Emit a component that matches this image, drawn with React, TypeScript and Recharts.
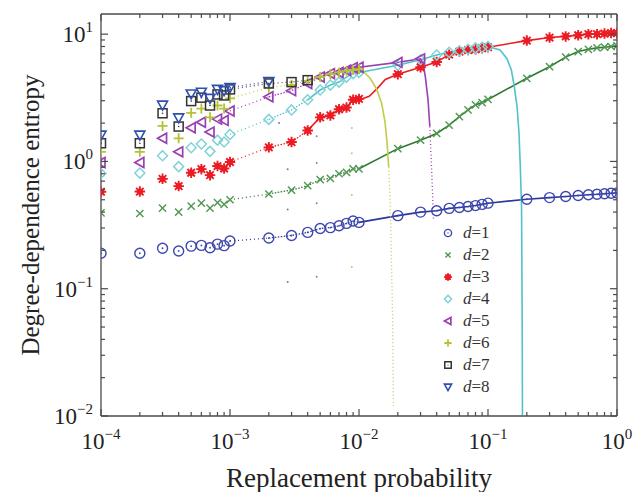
import React from "react";
import { ScatterChart, Scatter, XAxis, YAxis, ReferenceLine, Legend } from "recharts";

const SERIF = "'Liberation Serif', 'Times New Roman', Times, serif";
const AXIS = "#4a4a4a";
const PLOT = { left: 101, top: 14, right: 617, bottom: 416 };

// sampled replacement probabilities (also used as the x tick positions)
const P = [
  1e-4, 2e-4, 3e-4, 4e-4, 5e-4, 6e-4, 7e-4, 8e-4, 9e-4,
  1e-3, 2e-3, 3e-3, 4e-3, 5e-3, 6e-3, 7e-3, 8e-3, 9e-3,
  1e-2, 2e-2, 3e-2, 4e-2, 5e-2, 6e-2, 7e-2, 8e-2, 9e-2,
  0.1, 0.2, 0.3, 0.4, 0.5, 0.6, 0.7, 0.8, 0.9, 1,
];

const Y_TICKS = [
  0.01, 0.02, 0.03, 0.04, 0.05, 0.06, 0.07, 0.08, 0.09,
  0.1, 0.2, 0.3, 0.4, 0.5, 0.6, 0.7, 0.8, 0.9,
  1, 2, 3, 4, 5, 6, 7, 8, 9, 10,
];

// entropy per d, one value per entry of P (shorter series stop early)
const D1 = [
  0.19, 0.19, 0.208, 0.198, 0.216, 0.219, 0.21, 0.224, 0.218,
  0.237, 0.25, 0.262, 0.277, 0.297, 0.302, 0.312, 0.326, 0.34,
  0.332, 0.375, 0.4, 0.41, 0.428, 0.435, 0.442, 0.45, 0.46,
  0.47, 0.505, 0.52, 0.53, 0.54, 0.548, 0.552, 0.558, 0.562, 0.566,
];
const D2 = [
  0.395, 0.39, 0.43, 0.4, 0.445, 0.47, 0.43, 0.475, 0.46,
  0.5, 0.555, 0.595, 0.645, 0.72, 0.735, 0.8, 0.82, 0.875,
  0.875, 1.26, 1.47, 1.66, 1.93, 2.25, 2.54, 2.78, 2.9,
  3.07, 4.5, 5.55, 6.6, 7.3, 7.6, 7.8, 7.9, 8.0, 8.1,
];
const D3 = [
  0.578, 0.58, 0.73, 0.64, 0.815, 0.87, 0.78, 0.92, 0.88,
  0.99, 1.29, 1.42, 1.75, 2.22, 2.3, 2.57, 2.65, 3.05,
  3.1, 4.85, 5.5, 6.05, 6.9, 7.3, 7.5, 7.6, 7.75,
  7.9, 8.9, 9.4, 9.6, 9.8, 10.0, 10.0, 10.1, 10.2, 10.2,
];
const D4 = [
  0.805, 0.81, 1.11, 0.91, 1.28, 1.37, 1.2, 1.47, 1.42,
  1.63, 2.14, 2.54, 3.05, 3.64, 3.98, 4.2, 4.6, 4.9,
  5.0, 5.7, 6.3, 6.85, 7.2, 7.4, 7.6, 7.8, 7.9,
  8.0,
];
const D5 = [
  0.98, 0.98, 1.52, 1.19, 1.84, 2.03, 1.7, 2.15, 2.1,
  2.49, 3.22, 3.6, 4.1, 4.6, 4.9, 5.0, 5.2, 5.45,
  5.5, 6.0, 6.4,
];
const D6 = [
  1.19, 1.19, 1.9, 1.52, 2.41, 2.6, 2.22, 2.75, 2.6,
  3.13, 3.8, 4.0, 4.3, 4.6, 4.85, 5.0, 5.15, 5.25,
  5.3,
];
const D7 = [
  1.39, 1.39, 2.39, 1.88, 2.98, 3.17, 2.75, 3.36, 3.3,
  3.68, 4.1, 4.2, 4.35,
];
const D8 = [
  1.61, 1.61, 2.77, 2.2, 3.39, 3.5, 3.13, 3.68, 3.6,
  3.8, 4.25,
];

// extra points
const D3_BEND_P = [0.0105, 0.012, 0.0137, 0.016];
const D3_BEND_V = [3.1, 3.25, 3.7, 4.4];
const D4_DROP_P = [0.124, 0.14, 0.152, 0.16, 0.168, 0.174, 0.178, 0.182, 0.1835, 0.1845, 0.185];
const D4_DROP_V = [7.5, 6.45, 5.2, 3.86, 2.7, 1.66, 0.91, 0.44, 0.1, 0.03, 0.0102];
const D5_DROP_P = [0.0314, 0.0327, 0.0343, 0.0354, 0.0365, 0.0373, 0.0378];
const D5_DROP_V = [5.9, 4.6, 3.05, 1.88, 0.91, 0.5, 0.35];
const D6_DROP_P = [0.0105, 0.0122, 0.0137, 0.015, 0.0159, 0.0165, 0.017, 0.0174, 0.0178, 0.0182, 0.0185];
const D6_DROP_V = [5.25, 4.5, 3.7, 2.85, 2.05, 1.4, 0.9, 0.5, 0.2, 0.06, 0.012];

// sparse dots of the steep drops
const SPARSE_A_P = [0.0024, 0.0028, 0.0028, 0.0028];
const SPARSE_A_V = [2.0, 0.87, 0.42, 0.113];
const SPARSE_B_P = [0.0047, 0.0047, 0.0047, 0.0047];
const SPARSE_B_V = [1.58, 0.97, 0.47, 0.124];
const SPARSE_C_P = [0.0088, 0.0088, 0.0088, 0.0088];
const SPARSE_C_V = [1.83, 1.16, 0.545, 0.148];

type Pt = { p: number; v: number };
const pts = (ps: number[], vs: number[]): Pt[] => vs.map((v, i) => ({ p: ps[i], v }));
const byP = (a: Pt, b: Pt) => a.p - b.p;

type Kind = "circle" | "cross" | "star" | "diamond" | "left" | "plus" | "square" | "down";

const SERIES = [
  { d: 1, vals: D1, kind: "circle" as Kind, mark: "#3d47ad", line: "#2a389f", sparse: 10, dense: 18, extra: [] as Pt[], drop: [] as Pt[], tail: 0 },
  { d: 2, vals: D2, kind: "cross" as Kind, mark: "#4f9650", line: "#2f7a30", sparse: 10, dense: 18, extra: [], drop: [], tail: 0 },
  { d: 3, vals: D3, kind: "star" as Kind, mark: "#ec1c24", line: "#ec1c24", sparse: 10, dense: 12, extra: pts(D3_BEND_P, D3_BEND_V), drop: [], tail: 0 },
  { d: 4, vals: D4, kind: "diamond" as Kind, mark: "#82d2d6", line: "#4fc3ca", sparse: 10, dense: 12, extra: [], drop: pts(D4_DROP_P, D4_DROP_V), tail: 0 },
  { d: 5, vals: D5, kind: "left" as Kind, mark: "#9a3fb3", line: "#9a3fb3", sparse: 10, dense: 13, extra: [], drop: pts(D5_DROP_P, D5_DROP_V), tail: 3 },
  { d: 6, vals: D6, kind: "plus" as Kind, mark: "#b4c233", line: "#c2cc4a", sparse: 12, dense: 12, extra: [], drop: pts(D6_DROP_P, D6_DROP_V), tail: 6 },
  { d: 7, vals: D7, kind: "square" as Kind, mark: "#333333", line: "#555555", sparse: 12, dense: 12, extra: [], drop: [], tail: 0 },
  { d: 8, vals: D8, kind: "down" as Kind, mark: "#2f4fae", line: "#3a55b0", sparse: 10, dense: 10, extra: [], drop: [], tail: 0 },
];

const SPARSE = [
  { data: pts(SPARSE_A_P, SPARSE_A_V), color: "#7a6fb8" },
  { data: pts(SPARSE_B_P, SPARSE_B_V), color: "#8a8a9a" },
  { data: pts(SPARSE_C_P, SPARSE_C_V), color: "#c4cc55" },
];

function Marker({ kind, cx, cy, color, s = 1 }: { kind: Kind; cx: number; cy: number; color: string; s?: number }) {
  const r = 5 * s;
  switch (kind) {
    case "circle":
      return (
        <g>
          <circle cx={cx} cy={cy} r={r} fill="none" stroke={color} strokeWidth={1.4} />
          <circle cx={cx} cy={cy} r={0.9 * s} fill={color} />
        </g>
      );
    case "cross": {
      const a = r * 0.72;
      return <path d={`M${cx - a},${cy - a}L${cx + a},${cy + a}M${cx - a},${cy + a}L${cx + a},${cy - a}`} stroke={color} strokeWidth={1.4} />;
    }
    case "star": {
      const a = r * 1.05;
      const b = r * 0.75;
      return (
        <g stroke={color} strokeWidth={1.9}>
          <path d={`M${cx},${cy - a}V${cy + a}M${cx - a},${cy}H${cx + a}M${cx - b},${cy - b}L${cx + b},${cy + b}M${cx - b},${cy + b}L${cx + b},${cy - b}`} />
          <circle cx={cx} cy={cy} r={2.2 * s} fill={color} />
        </g>
      );
    }
    case "diamond":
      return <path d={`M${cx},${cy - r}L${cx + r},${cy}L${cx},${cy + r}L${cx - r},${cy}Z`} fill="none" stroke={color} strokeWidth={1.5} />;
    case "left":
      return <path d={`M${cx - r},${cy}L${cx + r * 0.8},${cy - r}L${cx + r * 0.8},${cy + r}Z`} fill="none" stroke={color} strokeWidth={1.7} />;
    case "plus":
      return <path d={`M${cx - r},${cy}H${cx + r}M${cx},${cy - r}V${cy + r}`} stroke={color} strokeWidth={1.8} />;
    case "square": {
      const a = r * 0.9;
      return (
        <g>
          <rect x={cx - a} y={cy - a} width={2 * a} height={2 * a} fill="none" stroke={color} strokeWidth={1.5} />
          <circle cx={cx} cy={cy} r={0.8 * s} fill={color} />
        </g>
      );
    }
    case "down":
      return <path d={`M${cx - r},${cy - r * 0.8}L${cx + r},${cy - r * 0.8}L${cx},${cy + r}Z`} fill="none" stroke={color} strokeWidth={1.6} />;
  }
  return null;
}

const NoShape = () => <g />;

function isMajor(v: number) {
  const l = Math.log10(v);
  return Math.abs(l - Math.round(l)) < 1e-6;
}
function expText(v: number) {
  const e = Math.round(Math.log10(v));
  return e < 0 ? "\u2212" + Math.abs(e) : String(e);
}

function XTick(props: any) {
  const { x, y, payload } = props;
  const major = isMajor(payload.value);
  const len = major ? 7 : 4;
  return (
    <g>
      <line x1={x} y1={y} x2={x} y2={y - len} stroke={AXIS} strokeWidth={1.2} />
      <line x1={x} y1={PLOT.top} x2={x} y2={PLOT.top + len} stroke={AXIS} strokeWidth={1.2} />
      {major && (
        <text x={x} y={y + 33} textAnchor="middle" fontFamily={SERIF} fontSize={23} fill="#222">
          <tspan>10</tspan>
          <tspan dy={-10} fontSize={15}>{expText(payload.value)}</tspan>
        </text>
      )}
    </g>
  );
}

function YTick(props: any) {
  const { x, y, payload } = props;
  const major = isMajor(payload.value);
  const len = major ? 7 : 4;
  return (
    <g>
      <line x1={x} y1={y} x2={x + len} y2={y} stroke={AXIS} strokeWidth={1.2} />
      <line x1={PLOT.right} y1={y} x2={PLOT.right - len} y2={y} stroke={AXIS} strokeWidth={1.2} />
      {major && (
        <text x={x - 8} y={y + 8} textAnchor="end" fontFamily={SERIF} fontSize={23} fill="#222">
          <tspan>10</tspan>
          <tspan dy={-10} fontSize={15}>{expText(payload.value)}</tspan>
        </text>
      )}
    </g>
  );
}

function LegendBox() {
  return (
    <div style={{ fontFamily: SERIF, fontSize: 17, color: "#333" }}>
      {SERIES.map((s) => (
        <div key={s.d} style={{ display: "flex", alignItems: "center", height: 22 }}>
          <svg width={20} height={22}>
            <Marker kind={s.kind} cx={10} cy={11} color={s.mark} s={0.72} />
          </svg>
          <span style={{ marginLeft: 5 }}>
            <i>d</i>={s.d}
          </span>
        </div>
      ))}
    </div>
  );
}

export default function App() {
  const lines: React.ReactNode[] = [];
  SERIES.forEach((s) => {
    const all = pts(P, s.vals);
    const sparse = all.slice(9, s.sparse + 1);
    const dense = all.slice(s.sparse, s.dense + 1);
    const dropHead = s.tail ? s.drop.slice(0, s.tail + 1) : s.drop;
    const dropTail = s.tail ? s.drop.slice(s.tail) : [];
    const solid = [...all.slice(s.dense), ...s.extra].sort(byP).concat(dropHead);
    const segs: [Pt[], string | undefined][] = [
      [sparse, "1 3"],
      [dense, "1.5 1.5"],
      [solid, undefined],
      [dropTail, "1 2.5"],
    ];
    segs.forEach(([data, dash], i) => {
      if (data.length < 2) return;
      lines.push(
        <Scatter
          key={`l${s.d}-${i}`}
          data={data}
          fill={s.line}
          shape={NoShape}
          line={{ stroke: s.line, strokeWidth: dash ? 1.3 : 1.6, strokeDasharray: dash }}
          isAnimationActive={false}
        />
      );
    });
  });

  return (
    <div style={{ position: "absolute", left: 0, top: 0, background: "#fff" }}>
      <ScatterChart width={633} height={492} margin={{ top: 14, right: 16, bottom: 0, left: 0 }}>
        <XAxis
          type="number"
          dataKey="p"
          scale="log"
          domain={[1e-4, 1]}
          allowDataOverflow
          ticks={P}
          interval={0}
          tickSize={0}
          tickMargin={0}
          tick={<XTick />}
          height={76}
          stroke={AXIS}
          axisLine={{ stroke: AXIS, strokeWidth: 1.3 }}
          label={{
            content: (p: any) => (
              <text
                x={p.viewBox.x + p.viewBox.width / 2}
                y={p.viewBox.y + 71}
                textAnchor="middle"
                fontFamily={SERIF}
                fontSize={27}
                fill="#222"
              >
                Replacement probability
              </text>
            ),
          }}
        />
        <YAxis
          type="number"
          dataKey="v"
          scale="log"
          domain={[0.01, 14.4]}
          allowDataOverflow
          ticks={Y_TICKS}
          interval={0}
          tickSize={0}
          tickMargin={0}
          tick={<YTick />}
          width={101}
          stroke={AXIS}
          axisLine={{ stroke: AXIS, strokeWidth: 1.3 }}
          label={{
            content: (p: any) => {
              const cx = 30;
              const cy = p.viewBox.y + p.viewBox.height / 2;
              return (
                <text
                  x={cx}
                  y={cy}
                  transform={`rotate(-90, ${cx}, ${cy})`}
                  textAnchor="middle"
                  dominantBaseline="central"
                  fontFamily={SERIF}
                  fontSize={25}
                  fill="#222"
                >
                  Degree-dependence entropy
                </text>
              );
            },
          }}
        />
        <ReferenceLine y={14.4} stroke={AXIS} strokeWidth={1.3} />
        <ReferenceLine x={1} stroke={AXIS} strokeWidth={1.3} />
        {lines}
        {SPARSE.map((s, i) => (
          <Scatter
            key={`sp${i}`}
            data={s.data}
            fill={s.color}
            shape={(q: any) => <circle cx={q.cx} cy={q.cy} r={1} fill={s.color} />}
            isAnimationActive={false}
          />
        ))}
        {SERIES.map((s) => (
          <Scatter
            key={`m${s.d}`}
            data={pts(P, s.vals)}
            fill={s.mark}
            shape={(q: any) => <Marker kind={s.kind} cx={q.cx} cy={q.cy} color={s.mark} />}
            isAnimationActive={false}
          />
        ))}
        <Legend
          layout="vertical"
          align="center"
          verticalAlign="middle"
          wrapperStyle={{ left: 438, top: 222, width: 80 }}
          content={() => <LegendBox />}
        />
      </ScatterChart>
    </div>
  );
}
